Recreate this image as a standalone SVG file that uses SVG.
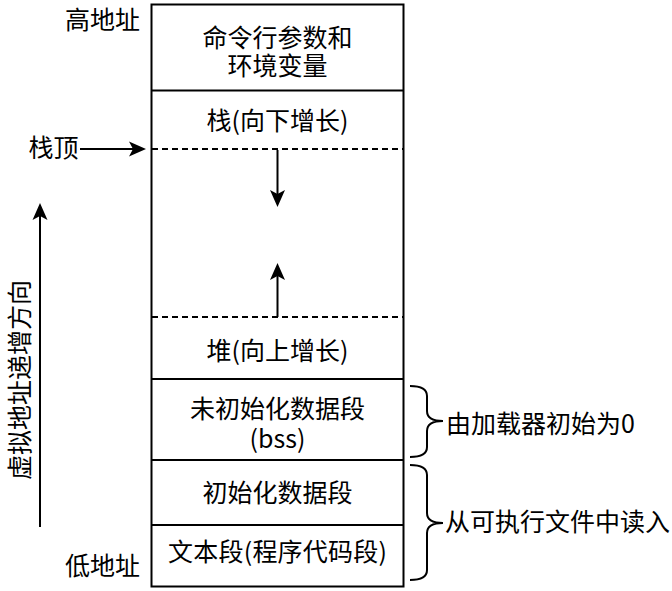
<svg xmlns="http://www.w3.org/2000/svg" width="672" height="591" viewBox="0 0 672 591">
<style>
.t{font-family:"Noto Sans CJK SC","Noto Sans",sans-serif;font-size:25px;fill:#000}
.m{text-anchor:middle}
.e{text-anchor:end}
.s{text-anchor:start}
.box{fill:#fff;stroke:#000;stroke-width:2}
.ln{stroke:#000;stroke-width:2;fill:none}
.dash{stroke:#000;stroke-width:2;stroke-dasharray:6 4;fill:none}
.arr{stroke:#000;stroke-width:2;fill:none;marker-end:url(#ah)}
.br{stroke:#000;stroke-width:2;fill:none}
</style>
<defs>
<marker id="ah" markerUnits="userSpaceOnUse" markerWidth="17" markerHeight="15" refX="4" refY="7.5" orient="auto" overflow="visible">
<path d="M0,0 L17,7.5 L0,15 L4,7.5 Z" fill="#000"/>
</marker>
</defs>
<rect width="672" height="591" fill="#fff"/>
<g id="memory">
<rect class="box" x="151.5" y="4.5" width="252" height="582"/>
</g>
<g id="args">
<text class="t m" x="277.5" y="47">命令行参数和</text>
<text class="t m" x="277.5" y="75">环境变量</text>
</g>
<g id="stack">
<line class="ln" x1="151.5" y1="90.5" x2="403.5" y2="90.5"/>
<text class="t m" x="277.5" y="130">栈(向下增长)</text>
</g>
<g id="gap">
<line class="dash" x1="152" y1="149" x2="403" y2="149"/>
<line class="dash" x1="152" y1="317" x2="403" y2="317"/>
</g>
<g id="heap">
<text class="t m" x="277.5" y="360">堆(向上增长)</text>
</g>
<g id="bss">
<line class="ln" x1="151.5" y1="379" x2="403.5" y2="379"/>
<text class="t m" x="277.5" y="417.5">未初始化数据段</text>
<text class="t m" x="277.5" y="448">(bss)</text>
</g>
<g id="data">
<line class="ln" x1="151.5" y1="460" x2="403.5" y2="460"/>
<text class="t m" x="277.5" y="502">初始化数据段</text>
</g>
<g id="text-seg">
<line class="ln" x1="151.5" y1="525" x2="403.5" y2="525"/>
<text class="t m" x="277.5" y="560.5" textLength="219">文本段(程序代码段)</text>
</g>
<g id="labels">
<text class="t e" x="140" y="29">高地址</text>
<text class="t e" x="140" y="575">低地址</text>
<text class="t e" x="78.5" y="156.5">栈顶</text>
<text class="t m" transform="translate(19.5,380) rotate(-90)" x="0" y="9">虚拟地址递增方向</text>
<text class="t s" x="446" y="433">由加载器初始为0</text>
<text class="t s" x="445" y="531">从可执行文件中读入</text>
</g>
<g id="connectors">
<line class="arr" x1="80" y1="149" x2="133" y2="149"/>
<line class="arr" x1="277.5" y1="150" x2="277.5" y2="194"/>
<line class="arr" x1="277.5" y1="317" x2="277.5" y2="276"/>
<line class="arr" x1="40" y1="527" x2="40" y2="216"/>
<path class="br" d="M410,386 Q427,386 427,396 L427,411 Q427,421 443,421 Q427,421 427,431 L427,447 Q427,457 410,457"/>
<path class="br" d="M410,465 Q427,465 427,475 L427,513 Q427,523 443,523 Q427,523 427,533 L427,570 Q427,580 410,580"/>
</g>
</svg>
